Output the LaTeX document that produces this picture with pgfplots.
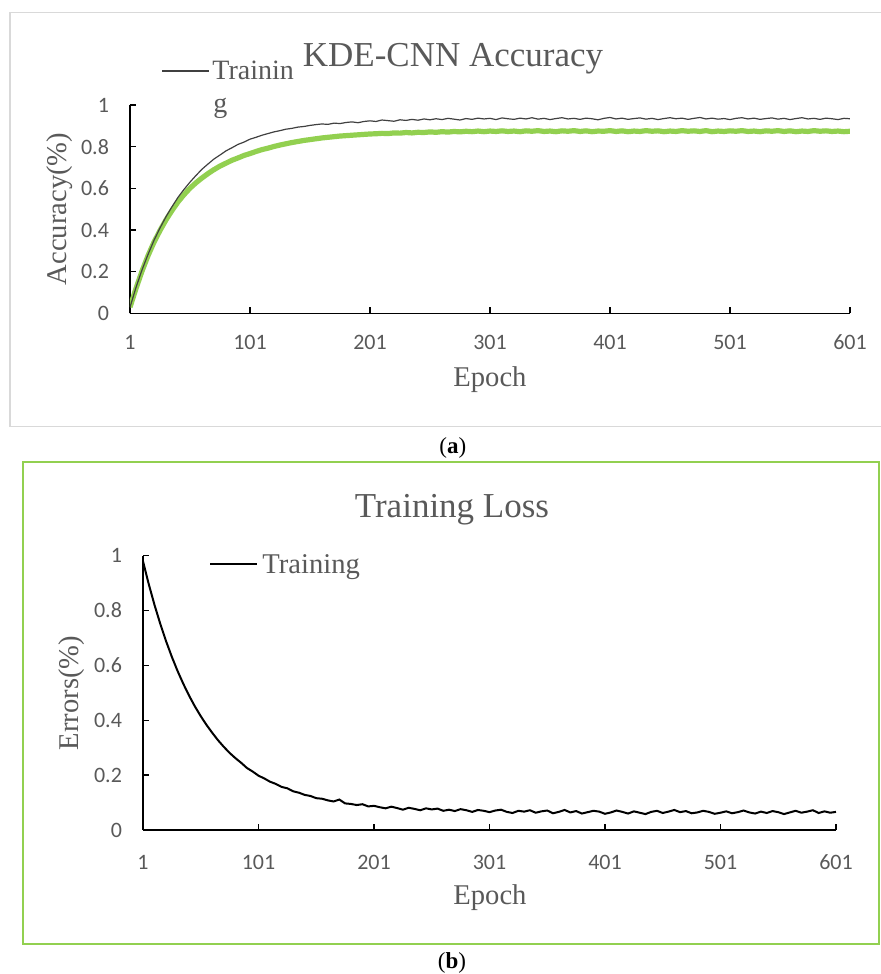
\documentclass[border=0pt]{standalone}
\usepackage{pgfplots}
\pgfplotsset{compat=1.18}
\usepackage{fontspec}
\setmainfont{Liberation Serif}
\newfontfamily\tickfont{Carlito}
\definecolor{txtgray}{HTML}{595959}
\definecolor{lgreen}{HTML}{92D050}
\definecolor{boxgray}{HTML}{D9D9D9}
\definecolor{trgray}{HTML}{404040}
\pgfplotsset{
  myax/.style={
    anchor=south west, scale only axis,
    xmin=1, xmax=601, ymin=0, ymax=1,
    axis lines=left, axis line style={black, line width=0.7pt, -},
    xtick={1,101,201,301,401,501,601},
    ytick={0,0.2,0.4,0.6,0.8,1},
    tick style={black, line width=0.7pt},
    major tick length=3pt,
    tick align=inside,
    /pgf/number format/assume math mode=true,
    ticklabel style={font=\tickfont\fontsize{11}{13}\selectfont, text=txtgray},
    yticklabel style={xshift=-7pt},
  }
}
\begin{document}
\begin{tikzpicture}
\path[use as bounding box] (0,0) rectangle (440pt,487pt);
% panel frames
\draw[boxgray, line width=0.65pt] (445pt,480.65pt) -- (5pt,480.65pt) -- (5pt,273.65pt) -- (445pt,273.65pt);
\draw[lgreen, line width=1pt] (11.35pt,255.85pt) rectangle (439.5pt,15pt);

\begin{axis}[myax, at={(65pt,330.25pt)}, width=360pt, height=104.25pt,
  xticklabel style={yshift=-7.25pt}]
\addplot[lgreen, line width=2.6pt] coordinates {
(1,0.030)(6,0.120)(11,0.203)(16,0.277)(21,0.342)(26,0.398)(31,0.449)(36,0.494)(41,0.535)(46,0.570)
(51,0.601)(56,0.627)(61,0.650)(66,0.671)(71,0.690)(76,0.707)(81,0.721)(86,0.735)(91,0.746)(96,0.758)
(101,0.767)(106,0.777)(111,0.786)(116,0.793)(121,0.801)(126,0.808)(131,0.814)(136,0.820)(141,0.825)(146,0.830)
(151,0.834)(156,0.838)(161,0.842)(166,0.845)(171,0.848)(176,0.851)(181,0.853)(186,0.855)(191,0.857)(196,0.859)
(201,0.861)(206,0.862)(211,0.864)(216,0.863)(221,0.866)(226,0.865)(231,0.868)(236,0.866)(241,0.869)(246,0.868)
(251,0.871)(256,0.869)(261,0.872)(266,0.870)(271,0.873)(276,0.871)(281,0.874)(286,0.872)(291,0.875)(296,0.872)
(301,0.875)(306,0.873)(311,0.876)(316,0.873)(321,0.875)(326,0.872)(331,0.876)(336,0.874)(341,0.877)(346,0.873)
(351,0.875)(356,0.872)(361,0.876)(366,0.874)(371,0.877)(376,0.873)(381,0.876)(386,0.872)(391,0.875)(396,0.874)
(401,0.877)(406,0.873)(411,0.876)(416,0.872)(421,0.875)(426,0.873)(431,0.877)(436,0.874)(441,0.876)(446,0.872)
(451,0.875)(456,0.873)(461,0.877)(466,0.874)(471,0.876)(476,0.873)(481,0.877)(486,0.872)(491,0.875)(496,0.873)
(501,0.876)(506,0.874)(511,0.877)(516,0.873)(521,0.875)(526,0.872)(531,0.876)(536,0.874)(541,0.877)(546,0.873)
(551,0.876)(556,0.872)(561,0.875)(566,0.873)(571,0.877)(576,0.874)(581,0.876)(586,0.873)(591,0.875)(596,0.872)
(601,0.874)};
\addplot[trgray, line width=0.6pt] coordinates {
(1,0.030)(6,0.125)(11,0.209)(16,0.283)(21,0.351)(26,0.410)(31,0.464)(36,0.512)(41,0.557)(46,0.595)
(51,0.630)(56,0.662)(61,0.692)(66,0.717)(71,0.741)(76,0.760)(81,0.780)(86,0.795)(91,0.811)(96,0.822)
(101,0.836)(106,0.845)(111,0.855)(116,0.863)(121,0.871)(126,0.877)(131,0.884)(136,0.888)(141,0.894)(146,0.897)
(151,0.902)(156,0.906)(161,0.909)(166,0.907)(171,0.913)(176,0.911)(181,0.916)(186,0.919)(191,0.915)(196,0.921)
(201,0.924)(206,0.921)(211,0.928)(216,0.925)(221,0.922)(226,0.929)(231,0.926)(236,0.931)(241,0.927)(246,0.933)
(251,0.929)(256,0.934)(261,0.930)(266,0.936)(271,0.932)(276,0.928)(281,0.935)(286,0.931)(291,0.937)(296,0.933)
(301,0.936)(306,0.930)(311,0.938)(316,0.934)(321,0.931)(326,0.937)(331,0.933)(336,0.939)(341,0.932)(346,0.936)
(351,0.930)(356,0.935)(361,0.939)(366,0.933)(371,0.936)(376,0.931)(381,0.937)(386,0.934)(391,0.929)(396,0.936)
(401,0.940)(406,0.933)(411,0.937)(416,0.931)(421,0.935)(426,0.938)(431,0.932)(436,0.936)(441,0.930)(446,0.935)
(451,0.939)(456,0.934)(461,0.937)(466,0.931)(471,0.936)(476,0.940)(481,0.933)(486,0.937)(491,0.932)(496,0.935)
(501,0.930)(506,0.936)(511,0.939)(516,0.933)(521,0.937)(526,0.931)(531,0.935)(536,0.938)(541,0.932)(546,0.936)
(551,0.930)(556,0.935)(561,0.939)(566,0.933)(571,0.936)(576,0.931)(581,0.937)(586,0.934)(591,0.930)(596,0.936)
(601,0.934)};
\end{axis}

\begin{axis}[myax, at={(71.5pt,72pt)}, width=346.5pt, height=137.15pt,
  xticklabel style={yshift=-9pt}]
\addplot[black, line width=1pt] coordinates {
(1,0.980)(6,0.896)(11,0.820)(16,0.751)(21,0.688)(26,0.631)(31,0.579)(36,0.532)(41,0.489)(46,0.450)
(51,0.415)(56,0.383)(61,0.354)(66,0.327)(71,0.303)(76,0.281)(81,0.262)(86,0.245)(91,0.226)(96,0.213)
(101,0.198)(106,0.188)(111,0.176)(116,0.168)(121,0.157)(126,0.152)(131,0.141)(136,0.136)(141,0.128)(146,0.124)
(151,0.116)(156,0.114)(161,0.108)(166,0.104)(171,0.111)(176,0.097)(181,0.095)(186,0.091)(191,0.094)(196,0.086)
(201,0.088)(206,0.083)(211,0.079)(216,0.085)(221,0.080)(226,0.074)(231,0.081)(236,0.077)(241,0.072)(246,0.079)
(251,0.075)(256,0.078)(261,0.070)(266,0.074)(271,0.069)(276,0.076)(281,0.072)(286,0.066)(291,0.073)(296,0.070)
(301,0.065)(306,0.071)(311,0.074)(316,0.066)(321,0.062)(326,0.070)(331,0.067)(336,0.072)(341,0.063)(346,0.068)
(351,0.071)(356,0.061)(361,0.066)(366,0.073)(371,0.064)(376,0.069)(381,0.060)(386,0.065)(391,0.070)(396,0.067)
(401,0.059)(406,0.064)(411,0.071)(416,0.066)(421,0.060)(426,0.068)(431,0.063)(436,0.058)(441,0.066)(446,0.070)
(451,0.062)(456,0.067)(461,0.073)(466,0.065)(471,0.069)(476,0.061)(481,0.064)(486,0.070)(491,0.066)(496,0.059)
(501,0.063)(506,0.068)(511,0.061)(516,0.065)(521,0.071)(526,0.064)(531,0.060)(536,0.067)(541,0.062)(546,0.069)
(551,0.065)(556,0.058)(561,0.064)(566,0.070)(571,0.063)(576,0.067)(581,0.072)(586,0.062)(591,0.068)(596,0.063)
(601,0.066)};
\end{axis}

% texts panel (a)
\node[text=txtgray, font=\fontsize{17.5}{20}\selectfont, anchor=base] at (226.5pt,453.5pt) {KDE-CNN Accuracy};
\draw[trgray, line width=0.6pt] (81pt,451.5pt) -- (104.5pt,451.5pt);
\node[text=txtgray, font=\fontsize{14}{16}\selectfont, anchor=base west, inner sep=0pt] at (106pt,447pt) {Trainin};
\node[text=txtgray, font=\fontsize{14}{16}\selectfont, anchor=base west, inner sep=0pt] at (106.5pt,430.7pt) {g};
\node[text=txtgray, font=\fontsize{14.3}{16}\selectfont] at (245pt,297pt) {Epoch};
\node[text=txtgray, font=\fontsize{14.3}{16}\selectfont, rotate=90] at (30pt,382.5pt) {Accuracy(\%)};
\node[font=\fontsize{11.5}{13}\selectfont] at (226.4pt,263pt) {(\textbf{a})};
% texts panel (b)
\node[text=txtgray, font=\fontsize{17.5}{20}\selectfont, anchor=base] at (226pt,228pt) {Training Loss};
\draw[black, line width=1pt] (105pt,205pt) -- (128.5pt,205pt);
\node[text=txtgray, font=\fontsize{14.3}{16}\selectfont, anchor=base west, inner sep=0pt] at (131pt,200.35pt) {Training};
\node[text=txtgray, font=\fontsize{14.3}{16}\selectfont] at (245pt,38pt) {Epoch};
\node[text=txtgray, font=\fontsize{14.3}{16}\selectfont, rotate=90] at (36pt,140.5pt) {Errors(\%)};
\node[font=\fontsize{11.5}{13}\selectfont] at (226pt,5.5pt) {(\textbf{b})};
\end{tikzpicture}
\end{document}
